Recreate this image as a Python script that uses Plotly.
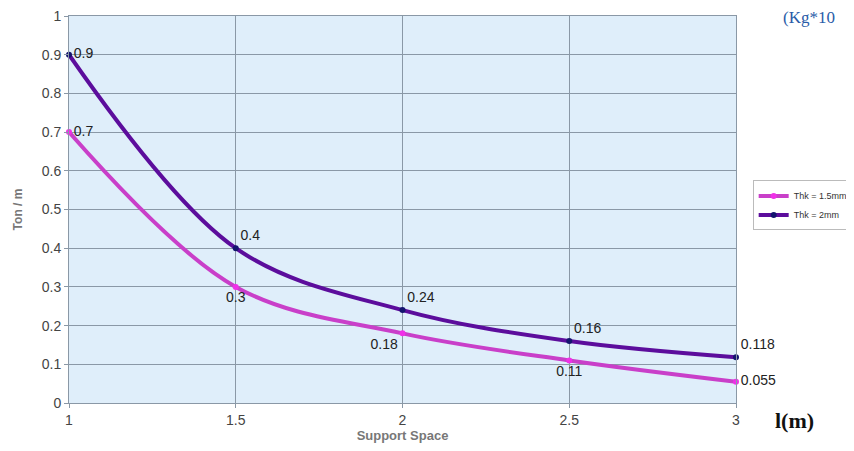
import plotly.graph_objects as go

support_space = [1, 1.5, 2, 2.5, 3]
thk_15 = [0.7, 0.3, 0.18, 0.11, 0.055]
thk_20 = [0.9, 0.4, 0.24, 0.16, 0.118]
labels_15 = ["0.7", "0.3", "0.18", "0.11", "0.055"]
labels_20 = ["0.9", "0.4", "0.24", "0.16", "0.118"]

fig = go.Figure()
fig.add_trace(go.Scatter(
    x=support_space, y=thk_15, name="Thk = 1.5mm",
    mode="lines+markers+text", cliponaxis=False,
    line=dict(color="#C93FC9", width=4, shape="spline", smoothing=1.0),
    marker=dict(color="#F030E8", size=6),
    text=labels_15,
    textposition=["middle right", "bottom center", "bottom left", "bottom center", "middle right"],
    textfont=dict(family="Liberation Sans, Arial", size=14, color="#222"),
))
fig.add_trace(go.Scatter(
    x=support_space, y=thk_20, name="Thk = 2mm",
    mode="lines+markers+text", cliponaxis=False,
    line=dict(color="#5C0D9C", width=4, shape="spline", smoothing=1.0),
    marker=dict(color="#14146E", size=6),
    text=labels_20,
    textposition=["middle right", "top right", "top right", "top right", "top right"],
    textfont=dict(family="Liberation Sans, Arial", size=14, color="#222"),
))

fig.update_layout(
    width=854, height=451,
    margin=dict(l=61, r=126, t=8, b=56, autoexpand=False),
    paper_bgcolor="white",
    plot_bgcolor="#DFEEFA",
    showlegend=True,
    legend=dict(x=1.025, y=0.575, xanchor="left", yanchor="top",
                bgcolor="white", bordercolor="#BBBBBB", borderwidth=1,
                font=dict(family="Liberation Sans, Arial", size=9, color="#333"),
                itemwidth=30, tracegroupgap=0),
    font=dict(family="Liberation Sans, Arial"),
)
fig.update_xaxes(
    range=[1, 3], tickvals=[1, 1.5, 2, 2.5, 3], ticktext=["1", "1.5", "2", "2.5", "3"],
    automargin=False, ticklabeloverflow="allow",
    showgrid=True, gridcolor="#8A98A6", gridwidth=1,
    showline=True, linecolor="#8A98A6", mirror=True,
    ticks="outside", ticklen=4, tickcolor="#8A98A6",
    tickfont=dict(size=14, color="#444"), zeroline=False,
    title=dict(text="<b>Support Space</b>", font=dict(size=13, color="#777"), standoff=2),
)
fig.update_yaxes(
    range=[0, 1], dtick=0.1, tickformat="~g",
    automargin=False, ticklabeloverflow="allow",
    showgrid=True, gridcolor="#8A98A6", gridwidth=1,
    showline=True, linecolor="#8A98A6", mirror=True,
    ticks="outside", ticklen=4, tickcolor="#8A98A6",
    tickfont=dict(size=14, color="#444"), zeroline=False,
    title=dict(text="<b>Ton / m</b>", font=dict(size=12, color="#777"), standoff=16),
)
fig.add_annotation(text="(Kg*10", xref="paper", yref="paper", x=1.068, y=0.995,
                   xanchor="left", yanchor="middle", showarrow=False,
                   font=dict(family="Liberation Serif, Times New Roman", size=17, color="#2A5CA8"))
fig.add_annotation(text="<b>l(m)</b>", xref="paper", yref="paper", x=1.055, y=-0.045,
                   xanchor="left", yanchor="middle", showarrow=False,
                   font=dict(family="Liberation Serif, Times New Roman", size=22, color="#111"))

fig.write_html("out.html")
